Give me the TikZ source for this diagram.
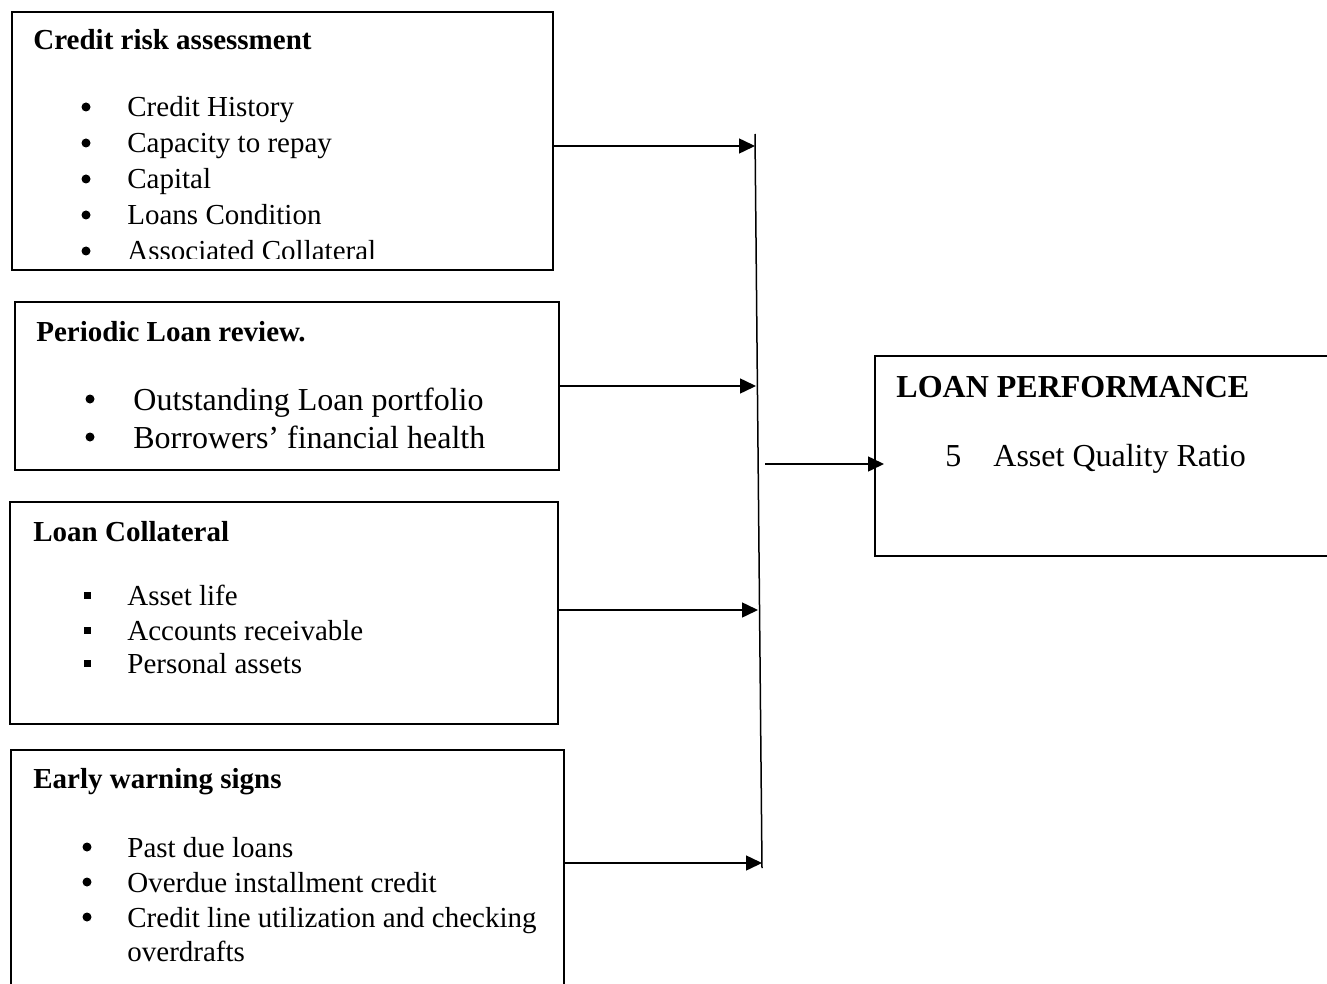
\documentclass[tikz,border=0pt]{standalone}
\usepackage{fontspec}
\setmainfont{Liberation Serif}
\usetikzlibrary{arrows.meta}

\newlength{\du}
\setlength{\du}{0.5pt}

\tikzset{
	panel/.style={draw, line width=2\du, inner sep=0pt, outer sep=0pt},
	head/.style={anchor=base west, inner sep=0pt, font=\bfseries\fontsize{14.5}{18}\selectfont},
	bighead/.style={head, font=\bfseries\fontsize{16}{19}\selectfont},
	entry/.style={anchor=base west, inner sep=0pt, font=\fontsize{14.5}{18}\selectfont},
	bigentry/.style={entry, font=\fontsize{16}{19}\selectfont},
	dot/.style={circle, fill, inner sep=0pt, minimum size=9\du},
	sq/.style={rectangle, fill, inner sep=0pt, minimum size=7\du},
	flow/.style={line width=1.5\du, -{Triangle[length=8pt,width=7.5pt]}},
	bar/.style={line width=1.5\du},
}

\begin{document}
\begin{tikzpicture}
	\pgftransformxscale{1.000000}
	\pgftransformyscale{-1.000000}
	\useasboundingbox (0\du,0\du) rectangle (1327\du,984\du);
	% boxes
	\node[panel, minimum width=541\du, minimum height=258\du] (crbox) at (282.5\du,141\du) {};
	\node[panel, minimum width=544\du, minimum height=168\du] (plbox) at (287\du,386\du) {};
	\node[panel, minimum width=548\du, minimum height=222\du] (lcbox) at (284\du,613\du) {};
	\node[panel, minimum width=553\du, minimum height=250\du] (ewbox) at (287.5\du,875\du) {};
	\node[panel, minimum width=465\du, minimum height=200\du] (pfbox) at (1107.5\du,456\du) {};
	% credit risk assessment
	\node[head] (crtitle) at (33\du,50\du) {Credit risk assessment};
	\node[dot] (cr1b) at (86\du,107\du) {};
	\node[entry] (cr1) at (127\du,117\du) {Credit History};
	\node[dot] (cr2b) at (86\du,143\du) {};
	\node[entry] (cr2) at (127\du,153\du) {Capacity to repay};
	\node[dot] (cr3b) at (86\du,179\du) {};
	\node[entry] (cr3) at (127\du,189\du) {Capital};
	\node[dot] (cr4b) at (86\du,215\du) {};
	\node[entry] (cr4) at (127\du,225\du) {Loans Condition};
	\begin{scope}
		\clip (13\du,13\du) rectangle (552\du,259\du);
		\node[dot] (cr5b) at (86\du,251\du) {};
		\node[entry] (cr5) at (127\du,261\du) {Associated Collateral};
	\end{scope}
	% periodic loan review
	\node[head] (pltitle) at (36\du,341\du) {Periodic Loan review.};
	\node[dot] (pl1b) at (90\du,399\du) {};
	\node[bigentry] (pl1) at (133\du,410\du) {Outstanding Loan portfolio};
	\node[dot] (pl2b) at (90\du,437\du) {};
	\node[bigentry] (pl2) at (133\du,448\du) {Borrowers’ financial health};
	% loan collateral
	\node[head] (lctitle) at (33\du,541\du) {Loan Collateral};
	\node[sq] (lc1b) at (87\du,595\du) {};
	\node[entry] (lc1) at (127\du,605\du) {Asset life};
	\node[sq] (lc2b) at (87\du,630\du) {};
	\node[entry] (lc2) at (127\du,640\du) {Accounts receivable};
	\node[sq] (lc3b) at (87\du,663\du) {};
	\node[entry] (lc3) at (127\du,673\du) {Personal assets};
	% early warning signs
	\node[head] (ewtitle) at (33\du,788\du) {Early warning signs};
	\node[dot] (ew1b) at (87\du,847\du) {};
	\node[entry] (ew1) at (127\du,857\du) {Past due loans};
	\node[dot] (ew2b) at (87\du,882\du) {};
	\node[entry] (ew2) at (127\du,892\du) {Overdue installment credit};
	\node[dot] (ew3b) at (87\du,917\du) {};
	\node[entry] (ew3) at (127\du,927\du) {Credit line utilization and checking};
	\node[entry] (ew4) at (127\du,961\du) {overdrafts};
	% loan performance
	\node[bighead] (pftitle) at (896\du,397\du) {LOAN PERFORMANCE};
	\node[bigentry] (pfnum) at (945\du,466\du) {5};
	\node[bigentry] (pf1) at (993\du,466\du) {Asset Quality Ratio};
	% connectors
	\coordinate (bartop) at (755\du,134\du);
	\coordinate (barbot) at (762\du,868\du);
	\coordinate (j1) at (755\du,146\du);
	\coordinate (j2) at (756\du,386\du);
	\coordinate (j3) at (758\du,610\du);
	\coordinate (j4) at (762\du,863\du);
	\coordinate (jout) at (765\du,464\du);
	\draw[bar] (bartop) -- (barbot);
	\draw[flow] (crbox.east |- j1) -- (j1);
	\draw[flow] (plbox.east |- j2) -- (j2);
	\draw[flow] (lcbox.east |- j3) -- (j3);
	\draw[flow] (ewbox.east |- j4) -- (j4);
	\draw[flow, shorten >=-4.5pt] (jout) -- (pfbox.west |- jout);
\end{tikzpicture}
\end{document}
